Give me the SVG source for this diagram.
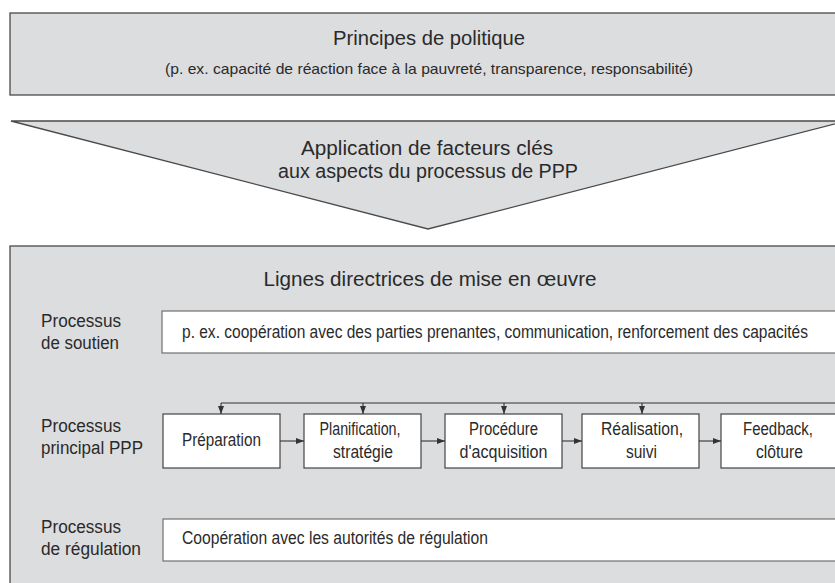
<svg xmlns="http://www.w3.org/2000/svg" width="835" height="583" viewBox="0 0 835 583">
<style>
text{font-family:"Liberation Sans Narrow","Liberation Sans",Arial,sans-serif;fill:#2a2a2a;}
.gray{fill:#dcdddf;stroke:#4a4a4a;stroke-width:1.3;}
.wbox{fill:#ffffff;stroke:#7a7a7a;stroke-width:1.3;}
.pbox{fill:#ffffff;stroke:#444;stroke-width:1.2;}
.c{text-anchor:middle;}
.t1{font-size:19.5px;}
.t2{font-size:15px;}
.lab{font-size:18px;}
.bt{font-size:17.5px;}
.conn{fill:none;stroke:#333;stroke-width:1.1;}
</style>
<defs>
<marker id="ah" viewBox="0 0 8 6" refX="8" refY="3" markerWidth="8" markerHeight="6" markerUnits="userSpaceOnUse" orient="auto">
<path d="M0,0 L8,3 L0,6 Z" fill="#333"/>
</marker>
</defs>
<rect width="835" height="583" fill="#ffffff"/>

<g id="principes">
<rect class="gray" x="10" y="13" width="840" height="82"/>
<text class="t1 c" x="429" y="45" textLength="192" lengthAdjust="spacingAndGlyphs">Principes de politique</text>
<text class="t2 c" x="429" y="74" textLength="528" lengthAdjust="spacingAndGlyphs">(p. ex. capacité de réaction face à la pauvreté, transparence, responsabilité)</text>
</g>

<g id="application">
<polygon class="gray" points="11,121 846,121 428,229"/>
<text class="t1 c" x="427" y="155" font-size="20.5" textLength="252" lengthAdjust="spacingAndGlyphs">Application de facteurs clés</text>
<text class="t1 c" x="428" y="178" font-size="20.5" textLength="300" lengthAdjust="spacingAndGlyphs">aux aspects du processus de PPP</text>
</g>

<g id="lignes">
<rect class="gray" x="10" y="246" width="840" height="360"/>
<text class="t1 c" x="430" y="286" textLength="333" lengthAdjust="spacingAndGlyphs">Lignes directrices de mise en œuvre</text>
</g>

<g id="soutien">
<text class="lab" x="41" y="327" textLength="80" lengthAdjust="spacingAndGlyphs">Processus</text>
<text class="lab" x="41" y="349" textLength="78" lengthAdjust="spacingAndGlyphs">de soutien</text>
<rect class="wbox" x="162" y="311" width="690" height="42"/>
<text class="bt" x="182" y="338" font-size="17" textLength="626" lengthAdjust="spacingAndGlyphs">p. ex. coopération avec des parties prenantes, communication, renforcement des capacités</text>
</g>

<g id="principal-label">
<text class="lab" x="41" y="432" textLength="80" lengthAdjust="spacingAndGlyphs">Processus</text>
<text class="lab" x="41" y="454" textLength="102" lengthAdjust="spacingAndGlyphs">principal PPP</text>
</g>

<g id="preparation">
<rect class="pbox" x="163" y="414" width="117" height="54"/>
<text class="bt c" x="221.5" y="446" textLength="79" lengthAdjust="spacingAndGlyphs">Préparation</text>
</g>
<g id="planification">
<rect class="pbox" x="304" y="414" width="117" height="54"/>
<text class="bt c" x="360" y="435" textLength="81" lengthAdjust="spacingAndGlyphs">Planification,</text>
<text class="bt c" x="363" y="458" textLength="60" lengthAdjust="spacingAndGlyphs">stratégie</text>
</g>
<g id="procedure">
<rect class="pbox" x="445" y="414" width="117" height="54"/>
<text class="bt c" x="503.5" y="435" textLength="69" lengthAdjust="spacingAndGlyphs">Procédure</text>
<text class="bt c" x="503.5" y="458" textLength="88" lengthAdjust="spacingAndGlyphs">d'acquisition</text>
</g>
<g id="realisation">
<rect class="pbox" x="582" y="414" width="117" height="54"/>
<text class="bt c" x="642" y="435" textLength="82" lengthAdjust="spacingAndGlyphs">Réalisation,</text>
<text class="bt c" x="641.5" y="458" textLength="31" lengthAdjust="spacingAndGlyphs">suivi</text>
</g>
<g id="feedback">
<rect class="pbox" x="721" y="414" width="130" height="54"/>
<text class="bt c" x="778" y="435" textLength="70" lengthAdjust="spacingAndGlyphs">Feedback,</text>
<text class="bt c" x="779.5" y="458" textLength="47" lengthAdjust="spacingAndGlyphs">clôture</text>
</g>

<g id="regulation">
<text class="lab" x="41" y="533" textLength="80" lengthAdjust="spacingAndGlyphs">Processus</text>
<text class="lab" x="41" y="555" textLength="100" lengthAdjust="spacingAndGlyphs">de régulation</text>
<rect class="wbox" x="163" y="519" width="690" height="42"/>
<text class="bt" x="182" y="544" font-size="17" textLength="306" lengthAdjust="spacingAndGlyphs">Coopération avec les autorités de régulation</text>
</g>

<g id="connectors">
<path class="conn" d="M221,403 H850"/>
<path class="conn" d="M221,403 V414" marker-end="url(#ah)"/>
<path class="conn" d="M363,403 V414" marker-end="url(#ah)"/>
<path class="conn" d="M504,403 V414" marker-end="url(#ah)"/>
<path class="conn" d="M642,403 V414" marker-end="url(#ah)"/>
<path class="conn" d="M280,441 H304" marker-end="url(#ah)"/>
<path class="conn" d="M421,441 H445" marker-end="url(#ah)"/>
<path class="conn" d="M562,441 H582" marker-end="url(#ah)"/>
<path class="conn" d="M699,441 H721" marker-end="url(#ah)"/>
</g>
</svg>
